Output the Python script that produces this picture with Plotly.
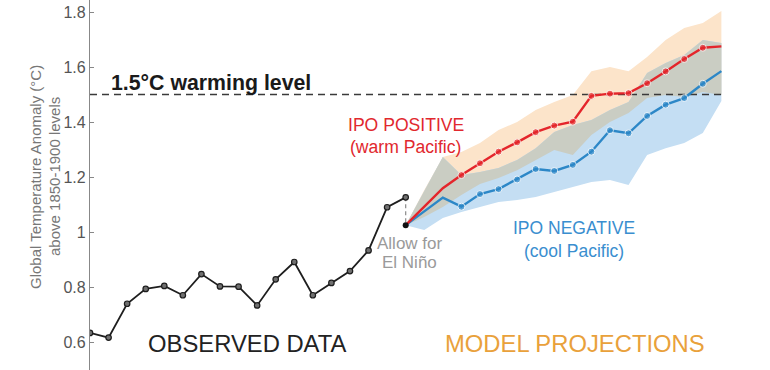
import numpy as np
import plotly.graph_objects as go

# ---------------- data ----------------
obs_years = list(range(1999, 2017))
obs_vals = [0.633, 0.616, 0.739, 0.793, 0.804, 0.770, 0.847, 0.802, 0.801,
            0.733, 0.828, 0.891, 0.770, 0.815, 0.858, 0.933, 1.090, 1.126]

proj_years = list(range(2016, 2034))
ipo_pos = [1.025, 1.093, 1.159, 1.207, 1.250, 1.292, 1.326, 1.363, 1.387,
           1.401, 1.495, 1.503, 1.505, 1.541, 1.584, 1.629, 1.670, 1.675]
ipo_neg = [1.025, 1.075, 1.125, 1.092, 1.138, 1.156, 1.191, 1.229, 1.222,
           1.244, 1.292, 1.370, 1.359, 1.422, 1.463, 1.487, 1.539, 1.585]

pos_upper = [1.025, 1.153, 1.273, 1.291, 1.324, 1.371, 1.400, 1.444, 1.473,
             1.498, 1.585, 1.600, 1.585, 1.636, 1.698, 1.742, 1.760, 1.804]
pos_lower = [1.025, 1.055, 1.091, 1.135, 1.175, 1.196, 1.225, 1.262, 1.298,
             1.280, 1.353, 1.400, 1.433, 1.487, 1.498, 1.491, 1.509, 1.498]
neg_upper = [1.025, 1.149, 1.273, 1.207, 1.218, 1.233, 1.262, 1.305, 1.364,
             1.389, 1.407, 1.444, 1.473, 1.578, 1.615, 1.644, 1.698, 1.687]
neg_lower = [1.025, 1.007, 1.051, 1.073, 1.091, 1.109, 1.116, 1.127, 1.145,
             1.164, 1.182, 1.189, 1.171, 1.280, 1.305, 1.324, 1.360, 1.476]

target_level = 1.5
y_tick_vals = [0.6, 0.8, 1.0, 1.2, 1.4, 1.6, 1.8]
y_tick_text = ["0.6", "0.8", "1", "1.2", "1.4", "1.6", "1.8"]

# ---------------- styles ----------------
C_ORANGE_BAND = "#FCE4CA"
C_BLUE_BAND = "#C4DEF3"
C_OVERLAP = "#CACDC3"
C_RED = "#E4252B"
C_BLUE = "#2C87C7"
C_OBS = "#1E1E1E"
FONT = "Liberation Sans, Arial, Helvetica, sans-serif"


def band_trace(xs, upper, lower, color):
    return go.Scatter(x=list(xs) + list(xs)[::-1], y=list(upper) + list(lower)[::-1],
                      fill="toself", fillcolor=color, mode="lines",
                      line=dict(width=0), hoverinfo="skip", showlegend=False)


def overlap_polygon(xs, uo, lo, ub, lb):
    xs = np.asarray(xs, float)
    curves = [np.asarray(c, float) for c in (uo, lo, ub, lb)]
    pts = set(xs.tolist())
    for i in range(len(xs) - 1):
        for a in range(4):
            for b in range(a + 1, 4):
                d0 = curves[a][i] - curves[b][i]
                d1 = curves[a][i + 1] - curves[b][i + 1]
                if d0 * d1 < 0:
                    t = d0 / (d0 - d1)
                    pts.add(xs[i] + t * (xs[i + 1] - xs[i]))
    px = np.array(sorted(pts))
    up = np.minimum(np.interp(px, xs, curves[0]), np.interp(px, xs, curves[2]))
    lo_ = np.maximum(np.interp(px, xs, curves[1]), np.interp(px, xs, curves[3]))
    up = np.maximum(up, lo_)
    return px, up, lo_


fig = go.Figure()

fig.add_trace(band_trace(proj_years, pos_upper, pos_lower, C_ORANGE_BAND))
fig.add_trace(band_trace(proj_years, neg_upper, neg_lower, C_BLUE_BAND))
ox, ou, ol = overlap_polygon(proj_years, pos_upper, pos_lower, neg_upper, neg_lower)
fig.add_trace(band_trace(ox, ou, ol, C_OVERLAP))

# 1.5 degree dashed line
fig.add_trace(go.Scatter(x=[obs_years[0], proj_years[-1]], y=[target_level, target_level],
                         mode="lines", line=dict(color="#3a3a3a", width=1.6, dash="7px,5px"),
                         hoverinfo="skip", showlegend=False))

# El Nino adjustment connector
fig.add_trace(go.Scatter(x=[obs_years[-1], proj_years[0]], y=[obs_vals[-1], ipo_pos[0]],
                         mode="lines", line=dict(color="#8a8a8a", width=1.2, dash="4px,3px"),
                         hoverinfo="skip", showlegend=False))

# observed
fig.add_trace(go.Scatter(x=obs_years, y=obs_vals, mode="lines+markers",
                         line=dict(color=C_OBS, width=1.8),
                         marker=dict(symbol="circle", size=5.5, color="#707070",
                                     line=dict(color=C_OBS, width=1.2)),
                         hoverinfo="skip", showlegend=False))

n = len(proj_years)
msize = [0, 0, 0] + [7] * (n - 4) + [0]

fig.add_trace(go.Scatter(x=proj_years, y=ipo_neg, mode="lines+markers",
                         line=dict(color=C_BLUE, width=2.4),
                         marker=dict(size=msize, color=C_BLUE),
                         hoverinfo="skip", showlegend=False))
fig.add_trace(go.Scatter(x=proj_years, y=ipo_pos, mode="lines+markers",
                         line=dict(color=C_RED, width=2.4),
                         marker=dict(size=msize, color=C_RED),
                         hoverinfo="skip", showlegend=False))

# start point
fig.add_trace(go.Scatter(x=[proj_years[0]], y=[ipo_pos[0]], mode="markers",
                         marker=dict(size=6, color="#111111"),
                         hoverinfo="skip", showlegend=False))

# ---------------- geometry ----------------
W, H = 770, 370
L = 90
X0 = 1999.0
PX_PER_YR = 18.57
PX_PER_UNIT = 275.0
Y_AT_1 = 232.0
x_max = X0 + (W - L) / PX_PER_YR


def val_at_y(py):
    return 1.0 - (py - Y_AT_1) / PX_PER_UNIT


y_max = val_at_y(0)
y_min = val_at_y(H)


def dx(px):
    return X0 + (px - L) / PX_PER_YR


def ann(text, px, py, size, color, bold=False, xanchor="center"):
    fig.add_annotation(x=dx(px), y=val_at_y(py), xref="x", yref="y",
                       text=f"<b>{text}</b>" if bold else text,
                       showarrow=False, xanchor=xanchor, yanchor="middle",
                       font=dict(family=FONT, size=size, color=color))


ann("1.5°C warming level", 109, 83, 21.3, "#1a1a1a", bold=True, xanchor="left")
ann("IPO POSITIVE", 405.5, 125, 17.6, "#E1282E")
ann("(warm Pacific)", 405.5, 147, 17.6, "#E1282E")
ann("IPO NEGATIVE", 573.5, 228, 17.5, "#3A8ECF")
ann("(cool Pacific)", 573.5, 251, 17.5, "#3A8ECF")
ann("Allow for", 409.5, 243.5, 17, "#9a9a9a")
ann("El Niño", 409.5, 262, 17, "#9a9a9a")
ann("OBSERVED DATA", 247, 343, 23.8, "#222222")
ann("MODEL PROJECTIONS", 574.5, 343, 23.8, "#E9A13B")

for txt, px in [("Global Temperature Anomaly (°C)", 35), ("above 1850-1900 levels", 54)]:
    fig.add_annotation(x=(px - L) / (W - L), y=(H - 177) / H,
                       xref="paper", yref="paper",
                       text=txt, showarrow=False, textangle=-90,
                       xanchor="center", yanchor="middle",
                       font=dict(family=FONT, size=15, color="#777777"))

fig.update_layout(
    width=W, height=H,
    margin=dict(l=L, r=0, t=0, b=0, pad=0),
    plot_bgcolor="white", paper_bgcolor="white",
    showlegend=False,
    xaxis=dict(range=[X0, x_max], visible=False, fixedrange=True),
    yaxis=dict(range=[y_min, y_max], tickvals=y_tick_vals, ticktext=y_tick_text,
               ticks="inside", ticklen=4, tickcolor="#888888", tickwidth=1.2,
               showline=True, linecolor="#888888", linewidth=1.3,
               showgrid=False, zeroline=False, ticklabeloverflow="allow",
               fixedrange=True,
               tickfont=dict(family=FONT, size=16, color="#555555")),
)

fig.write_html("out.html",
               config={"displayModeBar": False},
               post_script="document.body.style.margin='0';document.body.style.overflow='hidden';")
